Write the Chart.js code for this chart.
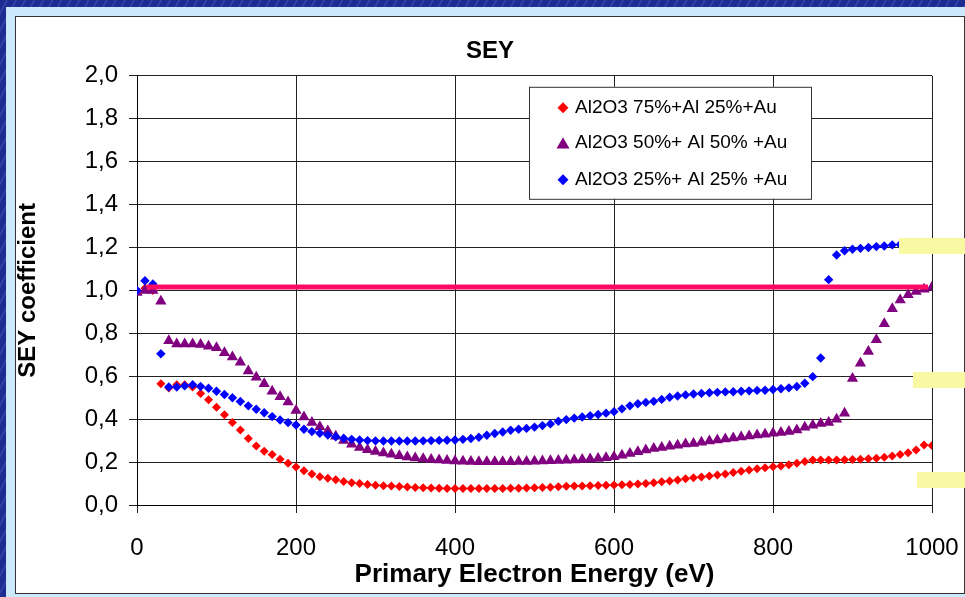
<!DOCTYPE html>
<html>
<head>
<meta charset="utf-8">
<script src="https://cdn.jsdelivr.net/npm/chart.js@4.4.0/dist/chart.umd.min.js"></script>
<style>
  html, body { margin: 0; padding: 0; }
  body {
    width: 965px; height: 597px; overflow: hidden; position: relative;
    background: #1d2c90 repeating-linear-gradient(118deg, #1d2c90 0px, #1d2c90 5px, #3746ab 6px, #1d2c90 8px);
  }
  #frame { position: absolute; left: 6px; top: 7px; width: 980px; height: 600px; background: #cbe9fb; }
  #box { position: absolute; left: 15px; top: 16px; width: 948px; height: 576px; background: #fff; border: 1px solid #333; }
  .note { position: absolute; background: #f9f8a3; }
</style>
</head>
<body>
<div id="frame"></div>
<div id="box"><canvas id="sey"></canvas></div>
<div class="note" style="left:899px;top:238px;width:70px;height:16px"></div>
<div class="note" style="left:913px;top:372px;width:60px;height:16px"></div>
<div class="note" style="left:917px;top:472px;width:60px;height:16px"></div>
<script>
// primary electron energy, eV
const energy = [
  0, 10, 20, 30, 40, 50, 60, 70, 80, 90,
  100, 110, 120, 130, 140, 150, 160, 170, 180, 190,
  200, 210, 220, 230, 240, 250, 260, 270, 280, 290,
  300, 310, 320, 330, 340, 350, 360, 370, 380, 390,
  400, 410, 420, 430, 440, 450, 460, 470, 480, 490,
  500, 510, 520, 530, 540, 550, 560, 570, 580, 590,
  600, 610, 620, 630, 640, 650, 660, 670, 680, 690,
  700, 710, 720, 730, 740, 750, 760, 770, 780, 790,
  800, 810, 820, 830, 840, 850, 860, 870, 880, 890,
  900, 910, 920, 930, 940, 950, 960, 970, 980, 990,
  1000
]

// Al2O3 75% + Al 25% + Au
const sey75 = [
  1.00, 1.01, 1.00, 0.565, 0.545, 0.56, 0.56, 0.55, 0.52, 0.49,
  0.455, 0.42, 0.385, 0.35, 0.31, 0.275, 0.25, 0.235, 0.213, 0.195,
  0.177, 0.16, 0.145, 0.132, 0.125, 0.118, 0.11, 0.104, 0.10, 0.095,
  0.092, 0.09, 0.088, 0.086, 0.084, 0.082, 0.08, 0.079, 0.078, 0.077,
  0.077, 0.077, 0.077, 0.077, 0.077, 0.077, 0.077, 0.078, 0.078, 0.079,
  0.08, 0.082, 0.083, 0.085, 0.087, 0.088, 0.089, 0.09, 0.091, 0.092,
  0.093, 0.094, 0.096, 0.098, 0.10, 0.104, 0.108, 0.112, 0.117, 0.122,
  0.127, 0.131, 0.135, 0.14, 0.145, 0.151, 0.157, 0.163, 0.169, 0.174,
  0.178, 0.182, 0.188, 0.195, 0.203, 0.21, 0.21, 0.21, 0.21, 0.211,
  0.212, 0.213, 0.215, 0.218, 0.222, 0.228, 0.235, 0.244, 0.256, 0.28,
  0.277
]

// Al2O3 50% + Al 50% + Au
const sey50 = [
  0.99, 1.00, 1.00, 0.95, 0.765, 0.75, 0.75, 0.75, 0.748, 0.74,
  0.733, 0.71, 0.69, 0.665, 0.625, 0.595, 0.565, 0.53, 0.505, 0.48,
  0.44, 0.41, 0.385, 0.365, 0.345, 0.32, 0.30, 0.283, 0.268, 0.257,
  0.249, 0.242, 0.236, 0.23, 0.224, 0.219, 0.215, 0.212, 0.21, 0.207,
  0.205, 0.204, 0.203, 0.202, 0.202, 0.202, 0.202, 0.202, 0.203, 0.203,
  0.204, 0.205, 0.206, 0.207, 0.209, 0.21, 0.212, 0.214, 0.217, 0.22,
  0.225, 0.232, 0.24, 0.248, 0.256, 0.263, 0.268, 0.274, 0.279, 0.284,
  0.287, 0.292, 0.298, 0.303, 0.308, 0.312, 0.317, 0.322, 0.326, 0.33,
  0.334, 0.338, 0.342, 0.35, 0.362, 0.372, 0.38, 0.385, 0.40, 0.427,
  0.59, 0.66, 0.715, 0.77, 0.845, 0.915, 0.955, 0.98, 0.995, 1.005,
  1.015
]

// Al2O3 25% + Al 25% + Au
const sey25 = [
  1.00, 1.045, 1.03, 0.705, 0.55, 0.55, 0.555, 0.56, 0.552, 0.544,
  0.53, 0.515, 0.50, 0.482, 0.462, 0.446, 0.43, 0.412, 0.396, 0.384,
  0.373, 0.353, 0.342, 0.334, 0.326, 0.318, 0.311, 0.306, 0.303, 0.30,
  0.299, 0.298, 0.298, 0.298, 0.298, 0.298, 0.299, 0.30, 0.301, 0.302,
  0.303, 0.306, 0.31, 0.316, 0.325, 0.333, 0.34, 0.348, 0.353, 0.357,
  0.363, 0.37, 0.378, 0.39, 0.398, 0.405, 0.41, 0.416, 0.422, 0.428,
  0.435, 0.448, 0.462, 0.472, 0.478, 0.483, 0.492, 0.502, 0.508, 0.513,
  0.517, 0.52, 0.523, 0.525, 0.527, 0.528, 0.53, 0.532, 0.534, 0.535,
  0.538, 0.542, 0.546, 0.552, 0.567, 0.598, 0.685, 1.05, 1.165, 1.185,
  1.192, 1.196, 1.20, 1.204, 1.207, 1.212, 1.214, 1.216, 1.218, 1.22,
  1.22
]

// pink reference line (start / end in eV, SEY level)
const refLineX = [12, 995]
const refLineY = [1.016, 1.016]

const seriesLabels = ['Al2O3 75%+Al 25%+Au', 'Al2O3 50%+ Al 50% +Au', 'Al2O3 25%+ Al 25% +Au']
const seriesColors = ['#ff0000', '#800080', '#0000ff']
const seriesStyles = ['rectRot', 'triangle', 'rectRot']

const xTicks = [0, 200, 400, 600, 800, 1000]
const xTickLabels = ['0', '200', '400', '600', '800', '1000']
const yTicks = [0, 0.2, 0.4, 0.6, 0.8, 1.0, 1.2, 1.4, 1.6, 1.8, 2.0]
const yTickLabels = ['0,0', '0,2', '0,4', '0,6', '0,8', '1,0', '1,2', '1,4', '1,6', '1,8', '2,0']

const FONT = 'Liberation Sans, Arial, sans-serif'

function toPoints(values) {
  return energy.map((e, i) => ({ x: e, y: values[i] }))
}

// Excel-style legend box sitting inside the plot
const boxLegend = {
  id: 'boxLegend',
  afterDraw(chart) {
    const ctx = chart.ctx
    const area = chart.chartArea
    const left = area.left + 392
    const top = area.top + 11
    ctx.save()
    ctx.fillStyle = '#fff'
    ctx.fillRect(left, top, 282, 112)
    ctx.strokeStyle = '#333'
    ctx.lineWidth = 1
    ctx.strokeRect(left + 0.5, top + 0.5, 282, 112)
    const rows = [21, 56, 93]
    ctx.font = '19px ' + FONT
    ctx.textBaseline = 'middle'
    ctx.textAlign = 'left'
    seriesLabels.forEach((label, i) => {
      const y = top + rows[i]
      ctx.fillStyle = seriesColors[i]
      Chart.helpers.drawPoint(ctx, {
        pointStyle: seriesStyles[i],
        radius: seriesStyles[i] === 'triangle' ? 7.5 : 5.5,
        rotation: 0,
        borderWidth: 0
      }, left + 34, y + (seriesStyles[i] === 'triangle' ? 2 : 0))
      ctx.fillStyle = '#000'
      ctx.fillText(label, left + 46, y)
    })
    ctx.restore()
  }
}

const ctx = document.getElementById('sey').getContext('2d')

new Chart(ctx, {
  type: 'scatter',
  data: {
    datasets: [
      {
        type: 'line',
        label: 'ref',
        data: refLineX.map((x, i) => ({ x: x, y: refLineY[i] })),
        borderColor: '#ff0a64',
        borderWidth: 5,
        borderCapStyle: 'butt',
        pointRadius: 0,
        order: 0
      },
      {
        label: seriesLabels[0],
        data: toPoints(sey75),
        pointStyle: 'rectRot',
        pointRadius: 4.5,
        backgroundColor: seriesColors[0],
        borderColor: seriesColors[0],
        borderWidth: 0,
        order: 3
      },
      {
        label: seriesLabels[1],
        data: toPoints(sey50),
        pointStyle: 'triangle',
        pointRadius: 6.5,
        backgroundColor: seriesColors[1],
        borderColor: seriesColors[1],
        borderWidth: 0,
        order: 2
      },
      {
        label: seriesLabels[2],
        data: toPoints(sey25),
        pointStyle: 'rectRot',
        pointRadius: 4.7,
        backgroundColor: seriesColors[2],
        borderColor: seriesColors[2],
        borderWidth: 0,
        order: 1
      }
    ]
  },
  options: {
    responsive: true,
    maintainAspectRatio: false,
    animation: false,
    events: [],
    layout: {
      padding: 0
    },
    plugins: {
      legend: { display: false },
      tooltip: { enabled: false },
      title: {
        display: true,
        text: 'SEY',
        color: '#000',
        font: { family: FONT, size: 24, weight: 'bold' },
        padding: { top: 20, bottom: 10 }
      }
    },
    scales: {
      x: {
        type: 'linear',
        min: 0,
        max: 1000,
        afterBuildTicks: (scale) => { scale.ticks = xTicks.map(v => ({ value: v })) },
        afterFit: (scale) => { scale.height = 88 },
        grid: { color: '#222', lineWidth: 1, tickLength: 8, drawTicks: true },
        border: { display: true, color: '#000', width: 1 },
        ticks: {
          color: '#000',
          padding: 2,
          maxRotation: 0,
          // tall line box pushes the labels down without widening the side padding
          font: { family: FONT, size: 24, lineHeight: 2.8 },
          callback: (value, index) => xTickLabels[index]
        },
        title: {
          display: true,
          text: 'Primary Electron Energy (eV)',
          color: '#000',
          font: { family: FONT, size: 26, weight: 'bold' },
          padding: { top: 0, bottom: 3 }
        }
      },
      y: {
        type: 'linear',
        min: 0,
        max: 2,
        afterBuildTicks: (scale) => { scale.ticks = yTicks.map(v => ({ value: v })) },
        afterFit: (scale) => { scale.width = 121 },
        grid: { color: '#222', lineWidth: 1, tickLength: 8, drawTicks: true },
        border: { display: true, color: '#000', width: 1 },
        ticks: {
          color: '#000',
          padding: 11,
          font: { family: FONT, size: 24 },
          callback: (value, index) => yTickLabels[index]
        },
        title: {
          display: true,
          text: 'SEY coefficient',
          color: '#000',
          font: { family: FONT, size: 24, weight: 'bold', lineHeight: 1 },
          padding: 0
        }
      },
      // empty right-hand axis only reserves the gap between plot and box edge
      yGap: {
        type: 'linear',
        position: 'right',
        min: 0,
        max: 2,
        grid: { display: false },
        border: { display: false },
        ticks: { display: false },
        afterFit: (scale) => { scale.width = 32 }
      }
    }
  },
  plugins: [boxLegend]
})
</script>
</body>
</html>
